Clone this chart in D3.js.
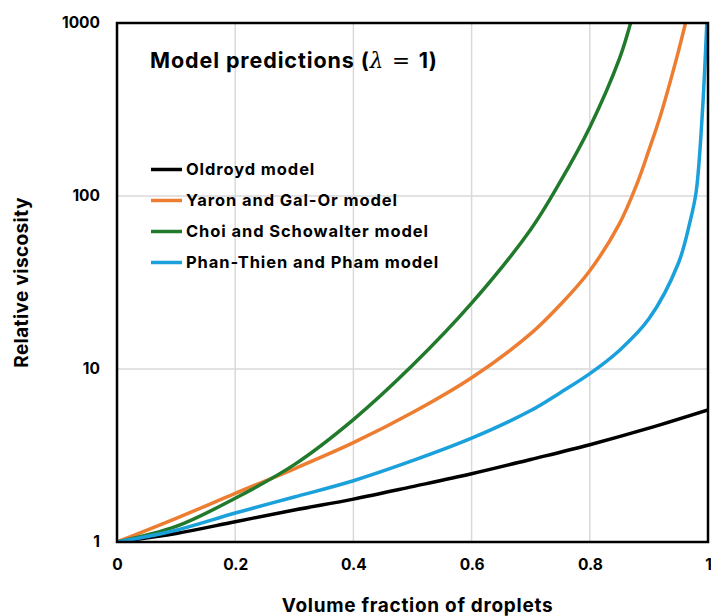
<!DOCTYPE html>
<html>
<head>
<meta charset="utf-8">
<script src="https://cdn.jsdelivr.net/npm/d3@7"></script>
<style>
  body { margin: 0; background: #fff; }
  text { font-family: Inter, "Open Sans", sans-serif; font-weight: 700; fill: #000; }
</style>
</head>
<body>
<svg id="chart" width="711" height="616"></svg>
<script>
const svg = d3.select("#chart"),
  width = +svg.attr("width"),
  height = +svg.attr("height"),
  margin = { top: 23, right: 3, bottom: 74, left: 117 };

// values (volume fraction, relative viscosity)
const oldroyd = [[0, 1], [0.1, 1.12], [0.2, 1.31], [0.3, 1.53], [0.4, 1.77], [0.5, 2.09],
  [0.6, 2.48], [0.7, 3.0], [0.8, 3.65], [0.9, 4.55], [1.0, 5.8]];
const yaron = [[0, 1], [0.1, 1.37], [0.2, 1.91], [0.3, 2.65], [0.4, 3.75], [0.5, 5.6],
  [0.6, 8.9], [0.7, 16], [0.75, 23.5], [0.8, 37], [0.85, 69], [0.88, 118], [0.9, 184],
  [0.92, 295], [0.946, 610], [0.962, 1000]];
const choi = [[0, 1], [0.1, 1.23], [0.2, 1.79], [0.3, 2.8], [0.4, 5.1], [0.5, 10.5],
  [0.6, 24], [0.7, 64], [0.75, 121], [0.8, 250], [0.85, 620], [0.869, 1000]];
const phan = [[0, 1], [0.1, 1.17], [0.2, 1.47], [0.3, 1.82], [0.4, 2.26], [0.5, 2.95],
  [0.6, 3.98], [0.7, 5.75], [0.75, 7.3], [0.8, 9.4], [0.85, 12.8], [0.9, 19.5], [0.95, 41],
  [0.97, 72], [0.98, 106], [0.99, 285], [0.998, 1000]];

const seriesNames = ["Oldroyd model", "Yaron and Gal-Or model", "Choi and Schowalter model", "Phan-Thien and Pham model"];
const seriesColors = ["#000000", "#ed7d31", "#217a2b", "#1aa0db"];
const seriesData = [oldroyd, yaron, choi, phan];

const xTicks = [0, 0.2, 0.4, 0.6, 0.8, 1];
const yTicks = [1, 10, 100, 1000];

const x = d3.scaleLinear().domain([0, 1]).range([margin.left, width - margin.right]);
const y = d3.scaleLog().domain([1, 1000]).range([height - margin.bottom, margin.top]);

svg.append("clipPath").attr("id", "plot-clip")
  .append("rect")
  .attr("x", x(0)).attr("y", y(1000))
  .attr("width", x(1) - x(0)).attr("height", y(1) - y(1000));

// grid
svg.append("g").selectAll("line")
  .data(xTicks.slice(1, -1))
  .join("line")
  .attr("x1", (d) => x(d)).attr("x2", (d) => x(d))
  .attr("y1", y(1)).attr("y2", y(1000))
  .attr("stroke", "#d9d9d9").attr("stroke-width", 1.5);

svg.append("g").selectAll("line")
  .data(yTicks.slice(1, -1))
  .join("line")
  .attr("x1", x(0)).attr("x2", x(1))
  .attr("y1", (d) => y(d)).attr("y2", (d) => y(d))
  .attr("stroke", "#d9d9d9").attr("stroke-width", 1.5);

// curves
const line = d3.line()
  .x((d) => x(d[0]))
  .y((d) => y(d[1]))
  .curve(d3.curveCatmullRom.alpha(0.5));

svg.append("g")
  .attr("clip-path", "url(#plot-clip)")
  .selectAll("path")
  .data(seriesData)
  .join("path")
  .attr("d", line)
  .attr("fill", "none")
  .attr("stroke", (d, i) => seriesColors[i])
  .attr("stroke-width", 3.5)
  .attr("stroke-linejoin", "round");

// frame
svg.append("rect")
  .attr("x", x(0)).attr("y", y(1000))
  .attr("width", x(1) - x(0)).attr("height", y(1) - y(1000))
  .attr("fill", "none").attr("stroke", "#000").attr("stroke-width", 2.5);

// axes
const xAxis = svg.append("g")
  .attr("transform", `translate(0,${y(1)})`)
  .call(d3.axisBottom(x).tickValues(xTicks).tickFormat(d3.format("~g")).tickSize(0).tickPadding(17));
xAxis.select(".domain").remove();
xAxis.selectAll("text").attr("font-size", "15.5px").style("font-family", "Inter, sans-serif");

const yAxis = svg.append("g")
  .attr("transform", `translate(${x(0)},0)`)
  .call(d3.axisLeft(y).tickValues(yTicks).tickFormat(d3.format("d")).tickSize(0).tickPadding(17));
yAxis.select(".domain").remove();
yAxis.selectAll("text").attr("font-size", "15.5px").style("font-family", "Inter, sans-serif");

// axis titles
svg.append("text")
  .attr("x", (x(0) + x(1)) / 2 + 5)
  .attr("y", 612)
  .attr("text-anchor", "middle")
  .attr("font-size", "19px")
  .attr("letter-spacing", "0.7px")
  .text("Volume fraction of droplets");

svg.append("text")
  .attr("transform", `translate(28,${(y(1) + y(1000)) / 2}) rotate(-90)`)
  .attr("text-anchor", "middle")
  .attr("font-size", "19px")
  .attr("letter-spacing", "0.4px")
  .text("Relative viscosity");

// chart title
const title = svg.append("text")
  .attr("x", 150)
  .attr("y", 68)
  .attr("font-size", "21.5px")
  .attr("letter-spacing", "0.9px");
title.append("tspan").text("Model predictions (");
title.append("tspan")
  .style("font-family", "DejaVu Serif")
  .style("font-style", "italic")
  .style("font-weight", "400")
  .text("λ");
title.append("tspan")
  .style("font-family", "DejaVu Sans")
  .style("font-weight", "400")
  .text(" = ");
title.append("tspan").text("1)");

// legend
const legend = svg.append("g")
  .selectAll("g")
  .data(seriesNames)
  .join("g")
  .attr("transform", (d, i) => `translate(151,${169.5 + i * 31})`);

legend.append("line")
  .attr("x1", 0).attr("x2", 31)
  .attr("stroke", (d, i) => seriesColors[i])
  .attr("stroke-width", 3.5);

legend.append("text")
  .attr("x", 35)
  .attr("dy", "0.35em")
  .attr("font-size", "16.5px")
  .attr("letter-spacing", "0.9px")
  .text((d) => d);
</script>
</body>
</html>
